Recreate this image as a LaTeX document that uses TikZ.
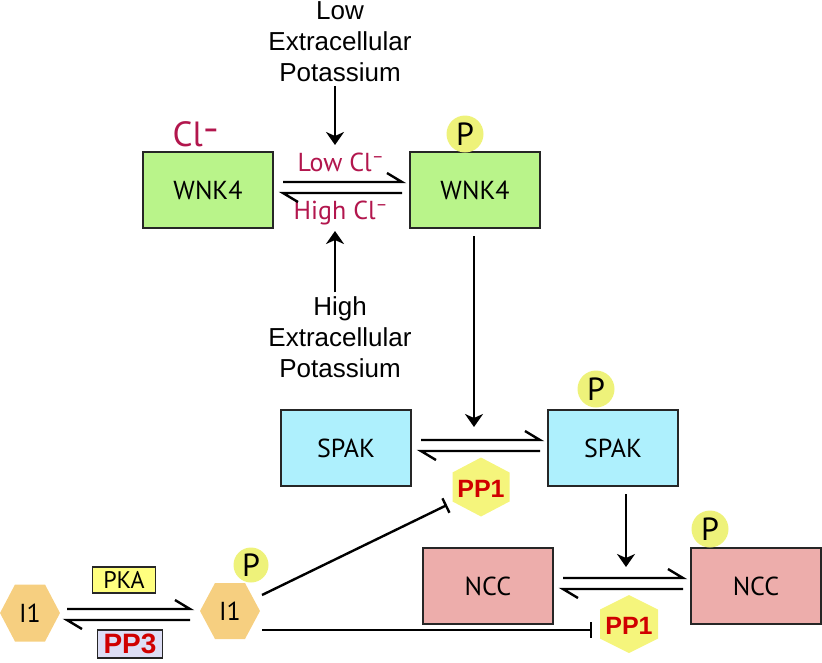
\documentclass[tikz,border=0pt]{standalone}
\usepackage{fontspec}
\setmainfont{PT Sans}
\newfontfamily\helv{Liberation Sans}
\usetikzlibrary{calc,arrows.meta}
\definecolor{wnkgreen}{HTML}{B9F48A}
\definecolor{spakblue}{HTML}{AEF0FD}
\definecolor{nccpink}{HTML}{EDADAB}
\definecolor{pyellow}{HTML}{EEF27A}
\definecolor{hexyellow}{HTML}{F5F57C}
\definecolor{ioorange}{HTML}{F6CF80}
\definecolor{pkayellow}{HTML}{FFFF7F}
\definecolor{pplav}{HTML}{DDDEF5}
\definecolor{clred}{HTML}{B2164D}
\definecolor{ppred}{HTML}{D00000}
\newcommand\fsz[1]{\fontsize{#1}{#1}\selectfont}
\begin{document}
\begin{tikzpicture}[x=1pt,y=-1pt,
  box/.style={draw=black!85, line width=2pt, minimum width=130pt, minimum height=76pt, inner sep=0pt, font=\fsz{26}},
  pcirc/.style={circle, fill=pyellow, minimum size=37pt, inner sep=0pt, font=\fsz{32}},
  ext/.style={align=center, font=\helv\fsz{26}, inner sep=0pt},
  clbl/.style={text=clred, font=\fsz{26}, inner sep=0pt},
  conn/.style={line width=2.4pt, draw=black},
  arr/.style={conn, -{Stealth[length=13pt,width=18pt,inset=4pt]}},
  inh/.style={conn, -{Bar[width=16pt,line width=2.4pt]}},
  hexlbl/.style={font=\helv\bfseries\fsz{25}, text=ppred, inner sep=0pt},
  iolbl/.style={font=\fsz{26}, inner sep=0pt},
]
\useasboundingbox (0,0) rectangle (822,662);

% ---------- WNK4 ----------
\node[box, fill=wnkgreen] (wnkA) at (208,190) {WNK4};
\node[box, fill=wnkgreen] (wnkB) at (475,190) {WNK4};
\node[pcirc] (pW) at (465,134) {P};
\node[text=clred, font=\fsz{35}, inner sep=0pt] (cl) at (196,134) {Cl\textsuperscript{\textbf{–}}};
\node[clbl] (lowcl) at (341,162) {Low Cl\textsuperscript{–}};
\node[clbl] (highcl) at (341,213) {High Cl\textsuperscript{–}};
\draw[conn] ($(wnkA.east)+(9,-8)$) coordinate (w1) -- ($(wnkB.west)+(-7,-8)$) coordinate (w2) -- ++(-15,-9);
\draw[conn] ($(wnkB.west)+(-7,3)$) coordinate (w3) -- ($(wnkA.east)+(9,3)$) coordinate (w4) -- ++(15,9);

\node[ext] (lowK) at (340,42) {Low\\[5pt]Extracellular\\[5pt]Potassium};
\node[ext] (highK) at (340,337) {High\\[5pt]Extracellular\\[5pt]Potassium};
\coordinate (kd) at (335,145);
\coordinate (ku) at (335,231);
\draw[arr] (lowK.south -| kd) ++(0,4) -- (kd);
\draw[arr] (highK.north -| ku) ++(0,-4) -- (ku);

% ---------- SPAK ----------
\node[box, fill=spakblue] (spakA) at (346,448) {SPAK};
\node[box, fill=spakblue] (spakB) at (613,448) {SPAK};
\node[pcirc] (pS) at (596,389) {P};
\draw[conn] ($(spakA.east)+(9,-8)$) -- ($(spakB.west)+(-7,-8)$) coordinate (s2) -- ++(-15,-9);
\draw[conn] ($(spakB.west)+(-7,3)$) -- ($(spakA.east)+(9,3)$) -- ++(15,9);
\draw[arr] ($(wnkB.south)+(-1,7)$) -- (474,427);

\fill[hexyellow] (481,487) +(0,-29.5) -- +(28.5,-14.5) -- +(28.5,14.5) -- +(0,29.5) -- +(-28.5,14.5) -- +(-28.5,-14.5) -- cycle;
\node[hexlbl] (pp1a) at (481,489) {PP1};

% ---------- NCC ----------
\node[box, fill=nccpink] (nccA) at (488,586) {NCC};
\node[box, fill=nccpink] (nccB) at (756,586) {NCC};
\node[pcirc] (pN) at (710,529) {P};
\draw[conn] ($(nccA.east)+(9,-8)$) -- ($(nccB.west)+(-7,-8)$) -- ++(-15,-9);
\draw[conn] ($(nccB.west)+(-7,3)$) -- ($(nccA.east)+(9,3)$) -- ++(15,9);
\draw[arr] ($(spakB.south)+(13,7)$) -- (626,567);

\fill[hexyellow] (629,624) +(0,-29) -- +(29,-14.5) -- +(29,14.5) -- +(0,29) -- +(-29,14.5) -- +(-29,-14.5) -- cycle;
\node[hexlbl] (pp1b) at (629,626) {PP1};

% ---------- I1 ----------
\fill[ioorange] (30,613) +(-30,0) -- +(-15,-28.5) -- +(15,-28.5) -- +(30,0) -- +(15,28.5) -- +(-15,28.5) -- cycle;
\node[iolbl] (ioA) at (30,613) {I1};
\fill[ioorange] (230,611) +(-30,0) -- +(-15,-28) -- +(15,-28) -- +(30,0) -- +(15,28) -- +(-15,28) -- cycle;
\node[iolbl] (ioB) at (230,611) {I1};
\node[pcirc, minimum size=35pt] (pI) at (251,565) {P};

\node[draw=black!85, line width=1.8pt, fill=pkayellow, minimum width=63pt, minimum height=26pt, inner sep=0pt, font=\fsz{24}] (pka) at (124,580) {PKA};
\node[draw=black!85, line width=1.8pt, fill=pplav, minimum width=65pt, minimum height=28pt, inner sep=0pt, font=\helv\bfseries\fsz{28}, text=ppred] (pp3) at (130,644) {PP3};

\coordinate (i1) at (67,609);
\coordinate (i2) at (190,609);
\coordinate (i3) at (190,620);
\coordinate (i4) at (67,620);
\draw[conn] (i1) -- (i2) -- ++(-15,-9);
\draw[conn] (i3) -- (i4) -- ++(15,9);

\coordinate (t1) at (262,595);
\coordinate (t2) at (262,630);
\draw[inh] (t1) -- (447,505);
\draw[inh] (t2) -- (592,630);
\end{tikzpicture}
\end{document}
